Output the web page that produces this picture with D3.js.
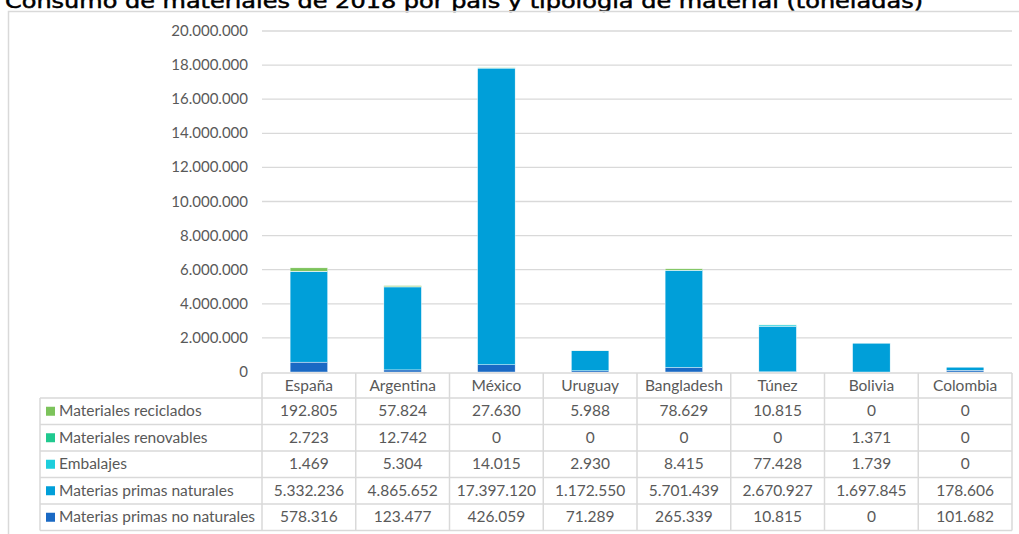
<!DOCTYPE html>
<html>
<head>
<meta charset="utf-8">
<script src="https://cdn.jsdelivr.net/npm/d3@7"></script>
<style>
  body { margin: 0; background: #fff; }
  svg text { font-family: Lato, "Open Sans", sans-serif; fill: #595959; }
</style>
</head>
<body>
<svg width="1019" height="534"></svg>
<script>
const countries = ["España", "Argentina", "México", "Uruguay", "Bangladesh", "Túnez", "Bolivia", "Colombia"]
const series = ["Materiales reciclados", "Materiales renovables", "Embalajes", "Materias primas naturales", "Materias primas no naturales"]
const reciclados = [192805, 57824, 27630, 5988, 78629, 10815, 0, 0]
const renovables = [2723, 12742, 0, 0, 0, 0, 1371, 0]
const embalajes = [1469, 5304, 14015, 2930, 8415, 77428, 1739, 0]
const naturales = [5332236, 4865652, 17397120, 1172550, 5701439, 2670927, 1697845, 178606]
const noNaturales = [578316, 123477, 426059, 71289, 265339, 10815, 0, 101682]
const yTicks = [0, 2000000, 4000000, 6000000, 8000000, 10000000, 12000000, 14000000, 16000000, 18000000, 20000000]

const colors = ["#7cc35b", "#20c98f", "#1dcedc", "#009fd9", "#1a69c4"]
const values = [reciclados, renovables, embalajes, naturales, noNaturales]

const es = d3.formatLocale({ decimal: ",", thousands: ".", grouping: [3], currency: ["", " €"] })
const fmt = es.format(",d")

const svg = d3.select("svg")
const grey = "#d9d9d9"

// titulo (cortado arriba, como en la imagen)
svg.append("text")
    .attr("x", 5).attr("y", 8)
    .attr("textLength", 918).attr("lengthAdjust", "spacingAndGlyphs")
    .style("font-family", "'DejaVu Sans', sans-serif")
    .style("font-size", "20px").style("fill", "#000")
    .style("stroke", "#000").style("stroke-width", 0.5)
    .text("Consumo de materiales de 2018 por país y tipología de material (toneladas)")

// marco del grafico
svg.append("path")
    .attr("d", "M8.5,540 V11.5 H1030")
    .attr("fill", "none").attr("stroke", grey).attr("stroke-width", 1.5)

const x = d3.scaleBand().domain(countries).range([262, 1012])
const y = d3.scaleLinear().domain([0, 20000000]).range([372, 31])

// rejilla
svg.append("g").selectAll("line")
    .data(yTicks.slice(1))
    .join("line")
    .attr("x1", 262).attr("x2", 1012)
    .attr("y1", d => y(d)).attr("y2", d => y(d))
    .attr("stroke", grey).attr("stroke-width", 1.3)

svg.append("g").selectAll("text")
    .data(yTicks)
    .join("text")
    .attr("x", 248).attr("y", d => y(d) + 5)
    .attr("text-anchor", "end")
    .style("font-size", "15px")
    .text(d => fmt(d))

// barras apiladas (de abajo arriba: no naturales ... reciclados)
const rows = countries.map((c, i) => {
    const r = { country: c }
    series.forEach((s, j) => r[s] = values[j][i])
    return r
})
const stack = d3.stack().keys(series.slice().reverse())(rows)
const barW = x.bandwidth() * 0.4

svg.append("g").selectAll("g")
    .data(stack)
    .join("g")
    .attr("fill", d => colors[series.indexOf(d.key)])
    .selectAll("rect")
    .data(d => d)
    .join("rect")
    .attr("x", d => x(d.data.country) + (x.bandwidth() - barW) / 2)
    .attr("width", barW)
    .attr("y", d => y(d[1]))
    .attr("height", d => y(d[0]) - y(d[1]))
    .attr("stroke", "#fff").attr("stroke-width", 0.4)

// tabla de datos
const headTop = 373, headH = 25, rowH = 26.5
const tableLeft = 40, tableRight = 1012
const t = svg.append("g")

// lineas horizontales
const hLines = [headTop, headTop + headH]
series.forEach((s, i) => hLines.push(headTop + headH + rowH * (i + 1)))
t.selectAll("line.h")
    .data(hLines)
    .join("line")
    .attr("class", "h")
    .attr("x1", (d, i) => i == 0 ? 262 : tableLeft).attr("x2", tableRight)
    .attr("y1", d => d).attr("y2", d => d)
    .attr("stroke", grey).attr("stroke-width", 1.5)

// lineas verticales
const bottom = hLines[hLines.length - 1]
t.selectAll("line.v")
    .data(countries.map(c => x(c)).concat([tableRight]))
    .join("line")
    .attr("class", "v")
    .attr("x1", d => d).attr("x2", d => d)
    .attr("y1", headTop).attr("y2", bottom)
    .attr("stroke", grey).attr("stroke-width", 1.5)
t.append("line")
    .attr("x1", tableLeft).attr("x2", tableLeft)
    .attr("y1", headTop + headH).attr("y2", bottom)
    .attr("stroke", grey).attr("stroke-width", 1.5)

t.selectAll("text.head")
    .data(countries)
    .join("text")
    .attr("class", "head")
    .attr("x", d => x(d) + x.bandwidth() / 2)
    .attr("y", headTop + 18)
    .attr("text-anchor", "middle")
    .style("font-size", "15.5px")
    .text(d => d)

series.forEach((s, i) => {
    const cy = headTop + headH + rowH * i + rowH / 2
    t.append("rect")
        .attr("x", 46).attr("y", cy - 4.5)
        .attr("width", 9).attr("height", 9)
        .attr("fill", colors[i])
    t.append("text")
        .attr("x", 59).attr("y", cy + 5)
        .style("font-size", "15.5px")
        .text(s)
    t.selectAll(null)
        .data(values[i])
        .join("text")
        .attr("x", (d, k) => x(countries[k]) + x.bandwidth() / 2)
        .attr("y", cy + 5)
        .attr("text-anchor", "middle")
        .style("font-size", "15.5px")
        .text(d => fmt(d))
})
</script>
</body>
</html>
